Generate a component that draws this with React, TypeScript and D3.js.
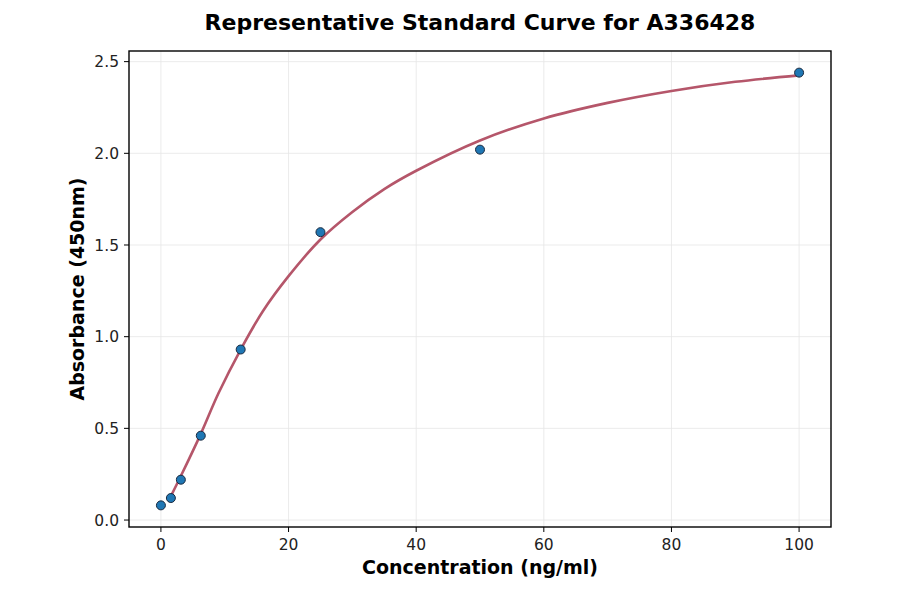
import * as d3 from "d3";

const concentration = [0, 1.5625, 3.125, 6.25, 12.5, 25, 50, 100];
const absorbance = [0.08, 0.12, 0.22, 0.46, 0.93, 1.57, 2.02, 2.44];

// fitted curve
const curveX = [1.5625, 3.125, 6.25, 9, 12.5, 16, 20, 25, 30, 35, 40, 50, 60, 70, 80, 90, 100];
const curveY = [0.13, 0.24, 0.47, 0.69, 0.93, 1.14, 1.33, 1.53, 1.68, 1.805, 1.905, 2.07, 2.19, 2.275, 2.34, 2.39, 2.425];

const xTicks = [0, 20, 40, 60, 80, 100];
const yTicks = [0, 0.5, 1.0, 1.5, 2.0, 2.5];

const width = 900;
const height = 594;
const marginLeft = 129;
const marginRight = 69;
const marginTop = 51;
const marginBottom = 67;

export default function App() {
    const x = d3.scaleLinear([-5, 105], [marginLeft, width - marginRight]);
    const y = d3.scaleLinear([-0.038, 2.558], [height - marginBottom, marginTop]);
    const line = d3
        .line<number>((d) => x(d), (d, i) => y(curveY[i]))
        .curve(d3.curveCatmullRom.alpha(0.5));

    const font = "DejaVu Sans, sans-serif";

    return (
        <svg width={width} height={height} style={{ position: "absolute", left: 0, top: 0 }} fontFamily={font}>
            <rect width={width} height={height} fill="white" />

            {/* grid */}
            <g stroke="#e6e6e6" strokeWidth="0.8">
                {xTicks.map((t) => (
                    <line key={"gx" + t} x1={x(t)} x2={x(t)} y1={marginTop} y2={height - marginBottom} />
                ))}
                {yTicks.map((t) => (
                    <line key={"gy" + t} x1={marginLeft} x2={width - marginRight} y1={y(t)} y2={y(t)} />
                ))}
            </g>

            {/* fitted curve */}
            <path d={line(curveX) || undefined} fill="none" stroke="#b5566a" strokeWidth="2.6" />

            {/* points */}
            <g fill="#1f77b4" stroke="#1a2a40" strokeWidth="1">
                {concentration.map((c, i) => (
                    <circle key={i} cx={x(c)} cy={y(absorbance[i])} r="4.5" />
                ))}
            </g>

            {/* frame */}
            <rect
                x={marginLeft}
                y={marginTop}
                width={width - marginLeft - marginRight}
                height={height - marginTop - marginBottom}
                fill="none"
                stroke="black"
                strokeWidth="1.4"
            />

            {/* x ticks */}
            <g fontSize="15.5" textAnchor="middle" fill="#222">
                {xTicks.map((t) => (
                    <g key={"tx" + t}>
                        <line x1={x(t)} x2={x(t)} y1={height - marginBottom} y2={height - marginBottom + 5} stroke="black" strokeWidth="1" />
                        <text x={x(t)} y={height - marginBottom + 23}>{t}</text>
                    </g>
                ))}
            </g>

            {/* y ticks */}
            <g fontSize="15.5" textAnchor="end" fill="#222">
                {yTicks.map((t) => (
                    <g key={"ty" + t}>
                        <line x1={marginLeft - 5} x2={marginLeft} y1={y(t)} y2={y(t)} stroke="black" strokeWidth="1" />
                        <text x={marginLeft - 10} y={y(t)} dy="0.36em">{t.toFixed(1)}</text>
                    </g>
                ))}
            </g>

            <text x={480} y={30} textAnchor="middle" fontSize="22" fontWeight="bold">
                Representative Standard Curve for A336428
            </text>
            <text x={480} y={574} textAnchor="middle" fontSize="19" fontWeight="bold">
                Concentration (ng/ml)
            </text>
            <text
                transform={`rotate(-90)`}
                x={-(marginTop + (height - marginTop - marginBottom) / 2)}
                y={84}
                textAnchor="middle"
                fontSize="19"
                fontWeight="bold"
            >
                Absorbance (450nm)
            </text>
        </svg>
    );
}
